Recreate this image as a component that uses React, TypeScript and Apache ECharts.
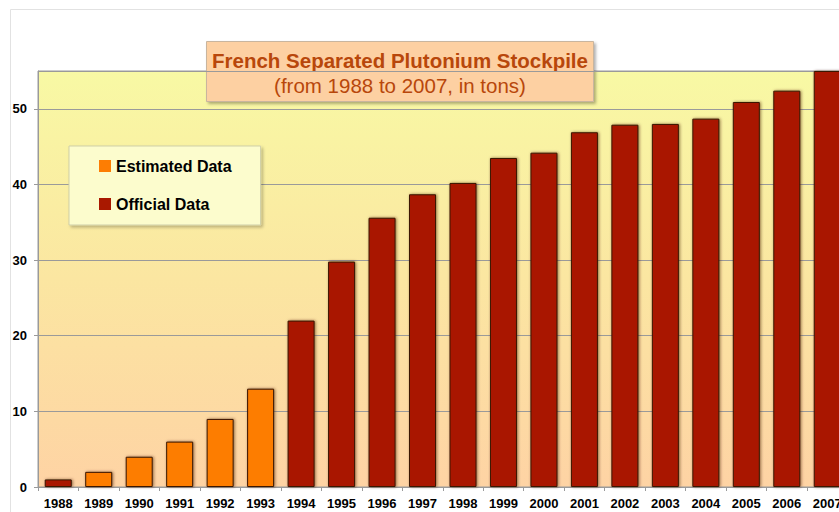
import React, { useEffect, useRef } from "react";
import * as echarts from "echarts";

const years = ["1988","1989","1990","1991","1992","1993","1994","1995","1996","1997","1998","1999","2000","2001","2002","2003","2004","2005","2006","2007"];
const estimated = [null, 2, 4, 6, 9, 13, null, null, null, null, null, null, null, null, null, null, null, null, null, null];
const official = [1, null, null, null, null, null, 22, 29.8, 35.6, 38.7, 40.2, 43.5, 44.2, 46.9, 47.9, 48.0, 48.7, 50.9, 52.4, 55];
const yTicks = [0, 10, 20, 30, 40, 50];
const titleText = "French Separated Plutonium Stockpile";
const subtitleText = "(from 1988 to 2007, in tons)";

const FONT = "'Liberation Sans', Arial, Helvetica, sans-serif";

export default function App() {
  const ref = useRef<HTMLDivElement>(null);
  useEffect(() => {
    if (!ref.current) return;
    const chart = echarts.init(ref.current, null, { renderer: "svg" });
    const barStyle = (color: string) => ({
      color,
      borderColor: "#3a1606",
      borderWidth: 1,
      shadowBlur: 3,
      shadowColor: "rgba(70,35,0,0.6)",
      shadowOffsetX: 1,
      shadowOffsetY: 0,
    });
    chart.setOption({
      animation: false,
      textStyle: { fontFamily: FONT },
      graphic: [
        {
          type: "rect",
          z: -10,
          shape: { x: 10.5, y: 9.5, width: 900, height: 600 },
          style: { fill: "#ffffff", stroke: "#e2e2e2", lineWidth: 1 },
        },
        {
          type: "group",
          z: 100,
          children: [
            {
              type: "rect",
              shape: { x: 206.5, y: 41.5, width: 387, height: 60 },
              style: {
                fill: "#fdd0a2",
                stroke: "#c9b59e",
                lineWidth: 1,
                shadowBlur: 3,
                shadowOffsetX: 2,
                shadowOffsetY: 2,
                shadowColor: "rgba(0,0,0,0.3)",
              },
            },
            {
              type: "text",
              x: 400,
              y: 60,
              style: {
                text: titleText,
                font: `bold 20.5px ${FONT}`,
                fill: "#b8470b",
                align: "center",
                verticalAlign: "middle",
              },
            },
            {
              type: "text",
              x: 400,
              y: 85,
              style: {
                text: subtitleText,
                font: `20.5px ${FONT}`,
                fill: "#b8470b",
                align: "center",
                verticalAlign: "middle",
              },
            },
          ],
        },
      ],
      legend: {
        orient: "vertical",
        left: 69,
        top: 146,
        padding: [12, 29, 13, 30],
        itemGap: 22,
        itemWidth: 12,
        itemHeight: 12,
        icon: "rect",
        backgroundColor: "#fcfccd",
        borderColor: "#cfcfa8",
        borderWidth: 1,
        shadowBlur: 3,
        shadowOffsetX: 2,
        shadowOffsetY: 2,
        shadowColor: "rgba(0,0,0,0.25)",
        textStyle: { fontFamily: FONT, fontWeight: "bold", fontSize: 16, color: "#000" },
        data: ["Estimated Data", "Official Data"],
        itemStyle: { borderWidth: 0, shadowBlur: 0, shadowOffsetX: 0 },
      },
      grid: {
        left: 38,
        top: 71,
        width: 809.5,
        height: 416,
        outerBoundsMode: "none",
        containLabel: false,
        show: true,
        borderColor: "#9a9a9a",
        borderWidth: 1,
        backgroundColor: new echarts.graphic.LinearGradient(0, 0, 0, 1, [
          { offset: 0, color: "#f8f9a4" },
          { offset: 0.5, color: "#fbe6a1" },
          { offset: 1, color: "#fed3a4" },
        ]),
      },
      xAxis: {
        type: "category",
        data: years,
        axisLine: { lineStyle: { color: "#9a9a9a", width: 1 } },
        axisTick: { show: true, length: 4, lineStyle: { color: "#9a9a9a" } },
        axisLabel: { fontFamily: FONT, fontWeight: "bold", fontSize: 13, color: "#000", margin: 10, interval: 0 },
      },
      yAxis: {
        type: "value",
        min: 0,
        max: 55,
        interval: 10,
        axisLine: { show: true, lineStyle: { color: "#9a9a9a", width: 1 } },
        axisTick: { show: true, length: 4, lineStyle: { color: "#9a9a9a" } },
        axisLabel: {
          fontFamily: FONT,
          fontWeight: "bold",
          fontSize: 13,
          color: "#000",
          margin: 11,
          showMaxLabel: false,
          formatter: (v: number) => (yTicks.includes(v) ? String(v) : ""),
        },
        splitLine: { show: true, lineStyle: { color: "#9a9a9a", width: 1 } },
      },
      series: [
        {
          name: "Estimated Data",
          type: "bar",
          data: estimated,
          barWidth: 27,
          barGap: "-100%",
          itemStyle: barStyle("#fd7d03"),
        },
        {
          name: "Official Data",
          type: "bar",
          data: official,
          barWidth: 27,
          itemStyle: barStyle("#a91800"),
        },
      ],
    });
    return () => chart.dispose();
  }, []);
  return (
    <div
      ref={ref}
      style={{ position: "absolute", left: 0, top: 0, width: 839, height: 512, background: "#ffffff" }}
    />
  );
}
